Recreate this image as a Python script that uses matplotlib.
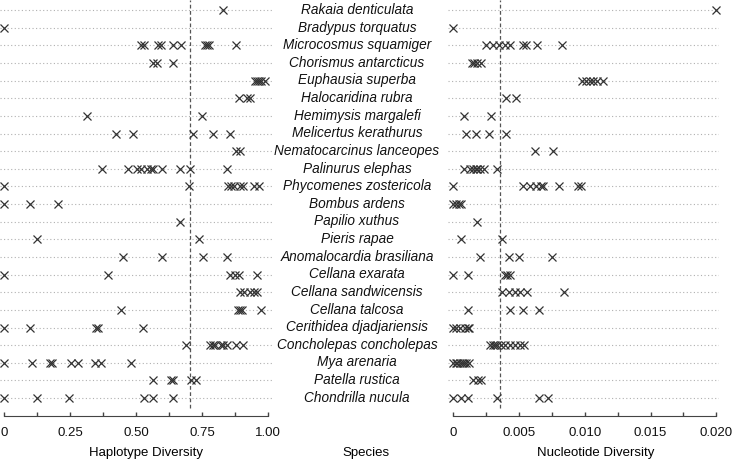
import matplotlib
matplotlib.use("Agg")
import matplotlib.pyplot as plt

plt.rcParams['font.family'] = ['Liberation Sans', 'DejaVu Sans']

species = ["Rakaia denticulata", "Bradypus torquatus", "Microcosmus squamiger",
           "Chorismus antarcticus", "Euphausia superba", "Halocaridina rubra",
           "Hemimysis margalefi", "Melicertus kerathurus", "Nematocarcinus lanceopes",
           "Palinurus elephas", "Phycomenes zostericola", "Bombus ardens",
           "Papilio xuthus", "Pieris rapae", "Anomalocardia brasiliana",
           "Cellana exarata", "Cellana sandwicensis", "Cellana talcosa",
           "Cerithidea djadjariensis", "Concholepas concholepas", "Mya arenaria",
           "Patella rustica", "Chondrilla nucula"]

# haplotype diversity per species (same order as above)
hap = [
    [0.83],
    [0.0],
    [0.52, 0.53, 0.585, 0.595, 0.64, 0.67, 0.76, 0.77, 0.778, 0.88],
    [0.565, 0.578, 0.64],
    [0.95, 0.96, 0.965, 0.975, 0.99],
    [0.89, 0.92, 0.93],
    [0.315, 0.75],
    [0.425, 0.49, 0.715, 0.79, 0.855],
    [0.88, 0.895],
    [0.37, 0.47, 0.505, 0.52, 0.54, 0.555, 0.565, 0.60, 0.665, 0.705, 0.845],
    [0.0, 0.70, 0.85, 0.86, 0.87, 0.895, 0.905, 0.945, 0.965],
    [0.0, 0.10, 0.205],
    [0.665],
    [0.125, 0.74],
    [0.45, 0.60, 0.755, 0.845],
    [0.0, 0.395, 0.855, 0.875, 0.89, 0.96],
    [0.895, 0.91, 0.93, 0.945, 0.96],
    [0.445, 0.885, 0.893, 0.9, 0.975],
    [0.0, 0.10, 0.35, 0.357, 0.525],
    [0.69, 0.78, 0.79, 0.80, 0.82, 0.83, 0.845, 0.88, 0.905],
    [0.0, 0.105, 0.175, 0.183, 0.255, 0.28, 0.345, 0.367, 0.48],
    [0.565, 0.632, 0.64, 0.708, 0.728],
    [0.0, 0.125, 0.245, 0.53, 0.565, 0.64],
]

# nucleotide diversity per species
nuc = [
    [0.0200],
    [0.0],
    [0.0025, 0.003, 0.0035, 0.0039, 0.0043, 0.0053, 0.0055, 0.0064, 0.0083],
    [0.0014, 0.0016, 0.0018, 0.0021],
    [0.0098, 0.0101, 0.0104, 0.0106, 0.0109, 0.0114],
    [0.0040, 0.0048],
    [0.0008, 0.0029],
    [0.001, 0.0017, 0.0027, 0.004],
    [0.0062, 0.0076],
    [0.0008, 0.0013, 0.0015, 0.0017, 0.0018, 0.002, 0.0023, 0.0033],
    [0.0, 0.0053, 0.0058, 0.0063, 0.0067, 0.0068, 0.008, 0.0095, 0.0097],
    [0.0, 0.0002, 0.0004, 0.0006],
    [0.0018],
    [0.0006, 0.0037],
    [0.002, 0.0042, 0.005, 0.0075],
    [0.0, 0.0011, 0.0039, 0.0041, 0.0043],
    [0.0037, 0.0042, 0.0047, 0.0051, 0.0056, 0.0084],
    [0.0011, 0.0043, 0.0053, 0.0065],
    [0.0, 0.0002, 0.0005, 0.0009, 0.0011, 0.0012],
    [0.0028, 0.003, 0.0032, 0.0033, 0.0036, 0.0039, 0.0043, 0.0047, 0.0051, 0.0054],
    [0.0, 0.0002, 0.0003, 0.0005, 0.0007, 0.0008, 0.001, 0.0012],
    [0.0015, 0.0019, 0.0021],
    [0.0, 0.0006, 0.0011, 0.0033, 0.0065, 0.0072],
]

hap_ticks = [0, 0.25, 0.5, 0.75, 1.0]
hap_labels = ["0", "0.25", "0.50", "0.75", "1.00"]
nuc_ticks = [0, 0.005, 0.010, 0.015, 0.020]
nuc_labels = ["0", "0.005", "0.010", "0.015", "0.020"]
hap_cut = 0.705
nuc_cut = 0.00356

W, H = 733, 461
fig = plt.figure(figsize=(W / 100, H / 100), dpi=100)

ax_bottom = 415.7
ax1 = fig.add_axes([0 / W, (H - ax_bottom) / H, 272 / W, ax_bottom / H])
ax2 = fig.add_axes([448 / W, (H - ax_bottom) / H, 271 / W, ax_bottom / H])

n = len(species)
mark_col = '#333333'


def panel(ax, vals, lim, ticks, labels, cut, minor):
    ax.set_xlim(*lim)
    ax.set_ylim(n - 0.0, -0.57)
    for i, row in enumerate(vals):
        ax.axhline(i, color='#b0b0b0', ls=(0, (1, 2.2)), lw=0.8, zorder=1)
        ax.plot(row, [i] * len(row), ls='none', marker='x', ms=6, mew=0.9,
                color=mark_col, clip_on=False, zorder=3)
    ax.axvline(cut, ymin=0.018, ymax=1, color='#555555', ls=(0, (3, 2)), lw=0.9, zorder=2)
    for s in ['top', 'left', 'right']:
        ax.spines[s].set_visible(False)
    ax.spines['bottom'].set_bounds(ticks[0], ticks[-1])
    ax.spines['bottom'].set_color('#444444')
    ax.set_xticks(ticks)
    ax.set_xticklabels(labels)
    ax.set_xticks(minor, minor=True)
    ax.tick_params(axis='x', which='both', direction='in', length=3, width=1,
                   colors='#444444', labelsize=9.5, labelcolor='#111111', pad=8)
    ax.set_yticks([])


hap_minor = [0.125, 0.375, 0.625, 0.875]
nuc_minor = [0.0025, 0.0075, 0.0125, 0.0175]
panel(ax1, hap, (-0.015, 1.015), hap_ticks, hap_labels, hap_cut, hap_minor)
panel(ax2, nuc, (-0.0004, 0.0202), nuc_ticks, nuc_labels, nuc_cut, nuc_minor)

# species names in the middle
for i, name in enumerate(species):
    ypx = 10 + 17.62 * i
    fig.text(357 / W, 1 - ypx / H, name, ha='center', va='center',
             style='italic', fontsize=9.8, color='#111111')

fig.text(146 / W, 1 - 453 / H, "Haplotype Diversity", ha='center', va='center', fontsize=9.5)
fig.text(366 / W, 1 - 453 / H, "Species", ha='center', va='center', fontsize=9.5)
fig.text(596 / W, 1 - 453 / H, "Nucleotide Diversity", ha='center', va='center', fontsize=9.5)

fig.savefig("out.png", dpi=100)
